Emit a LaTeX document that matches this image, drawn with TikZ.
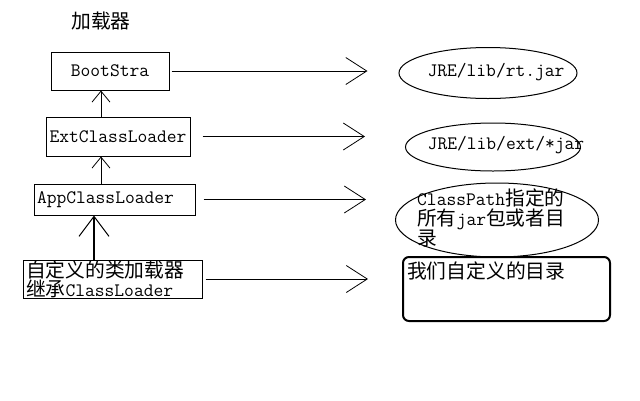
\documentclass[tikz,border=0pt]{standalone}
\usepackage{fontspec}
\newfontfamily\cjk[Scale=1.04]{Noto Sans CJK SC}
\usetikzlibrary{arrows.meta, positioning, shapes.geometric}
\tikzset{
    %Define standard arrow tip
    >={Straight Barb[length=21pt,width=27pt]},
}

\begin{document}
\begin{tikzpicture}[x=1pt, y=-1pt,
    every node/.style = {font=\fontsize{19}{20}\selectfont\ttfamily},
    box/.style = {draw, line width=1pt, inner sep=2pt},
    jar/.style = {draw, ellipse, line width=1pt, inner sep=0pt},
    feed/.style = {->, line width=0.8pt},
    parent/.style = {-{Straight Barb[length=11pt,width=18pt]}, line width=0.8pt},
    heavy/.style = {-{Straight Barb[length=20pt,width=30pt,line width=1pt]}, line width=2pt},
  ]
  \useasboundingbox (0,0) rectangle (640,400);
  \node (title) at (101,21) {\cjk 加载器};
  % loaders
  \node[box, minimum width=118, minimum height=38] (boot) at (110,71) {BootStra};
  \node[box, minimum width=144, minimum height=39] (ext) at (118,136.5) {ExtClassLoader};
  \node[box, text width=155, minimum height=31, align=left, inner sep=3pt] (app) at (114.5,199.5) {AppClassLoader};
  \node[box, text width=173, minimum height=38, align=left, inner xsep=3pt, inner ysep=0pt,
        font=\fontsize{19}{19}\selectfont\ttfamily] (custom) at (112.5,279)
        {{\cjk 自定义的类加载器}\\{\cjk 继承}ClassLoader};
  % paths
  \node[jar, minimum width=178, minimum height=51] (rt) at (488,73) {};
  \node (rttxt) at (496,72) {JRE/lib/rt.jar};
  \node[jar, minimum width=175, minimum height=48] (extjar) at (493,147) {};
  \node (extjartxt) at (506,145) {JRE/lib/ext/*jar};
  \node[jar, minimum width=203, minimum height=74] (cp) at (497,220) {};
  \node[anchor=north west, inner sep=0pt, align=left] (cptxt) at (417,189)
        {ClassPath{\cjk 指定的}\\{\cjk 所有}jar{\cjk 包或者目}\\{\cjk 录}};
  \node[box, rounded corners=6pt, line width=2pt, minimum width=207, minimum height=64] (ourdir) at (506.5,289) {};
  \node[anchor=north west, inner sep=0pt] (ourdirtxt) at ([shift={(5,6)}]ourdir.north west) {\cjk 我们自定义的目录};
  \draw[feed, shorten <=2, shorten >=31] (boot.east) -- (boot.east -| rt.west);
  \draw[feed, shorten <=12, shorten >=40] (ext.east) -- (ext.east -| extjar.west);
  \draw[feed, shorten <=8, shorten >=29] (app.east) -- (app.east -| cp.west);
  \draw[feed, shorten <=3, shorten >=34] (custom.east) -- (custom.east -| ourdir.west);
  \draw[parent] ([xshift=-17]ext.north) -- ([xshift=-17]ext.north |- boot.south);
  \draw[parent] ([xshift=-17]ext.south |- app.north) -- ([xshift=-17]ext.south);
  \draw[heavy] ([xshift=-18.5]custom.north) -- ([xshift=-18.5]custom.north |- app.south);
\end{tikzpicture}
\end{document}
